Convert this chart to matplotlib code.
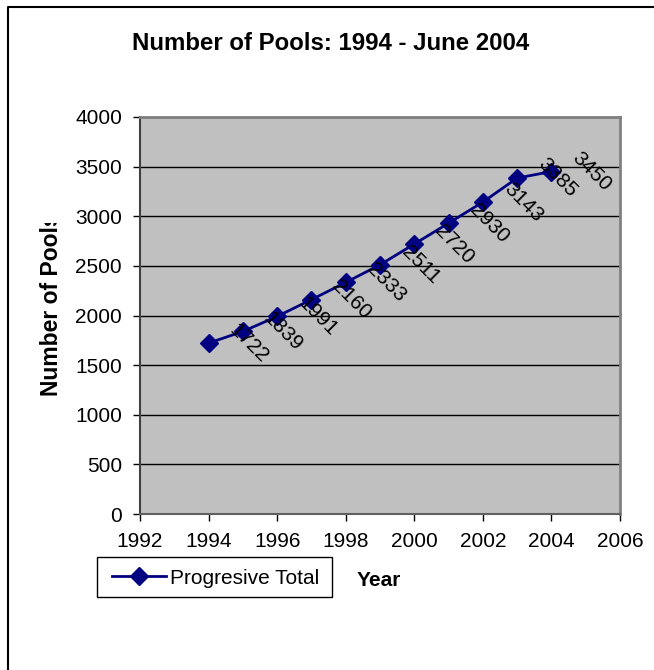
import matplotlib
matplotlib.use("Agg")
import matplotlib.pyplot as plt
from matplotlib.lines import Line2D
from matplotlib.patches import Rectangle
from matplotlib.transforms import Bbox, TransformedBbox

plt.rcParams['font.family'] = ['Liberation Sans', 'DejaVu Sans']

years = [1994, 1995, 1996, 1997, 1998, 1999, 2000, 2001, 2002, 2003, 2004]
totals = [1722, 1839, 1991, 2160, 2333, 2511, 2720, 2930, 3143, 3385, 3450]
x_ticks = [1992, 1994, 1996, 1998, 2000, 2002, 2004, 2006]
y_ticks = [0, 500, 1000, 1500, 2000, 2500, 3000, 3500, 4000]
title = "Number of Pools: 1994 - June 2004"
series_name = "Progresive Total"

W, H = 654, 670
fig = plt.figure(figsize=(W / 100, H / 100), dpi=100)
fig.patch.set_facecolor('white')

ax = fig.add_axes([140 / W, 1 - 514 / H, 480 / W, 397 / H])
ax.set_facecolor('#C0C0C0')
ax.set_xlim(1992, 2006)
ax.set_ylim(0, 4000)
ax.set_xticks(x_ticks)
ax.set_yticks(y_ticks)
ax.yaxis.grid(True, color='black', lw=1.0)
ax.set_axisbelow(True)
for s in ['top', 'right']:
    ax.spines[s].set_color('#808080')
    ax.spines[s].set_linewidth(2)
ax.spines['left'].set_color('#404040')
ax.spines['left'].set_linewidth(1.5)
ax.spines['bottom'].set_color('#606060')
ax.spines['bottom'].set_linewidth(1.5)
ax.tick_params(axis='x', direction='out', length=5, width=1, labelsize=15, pad=8)
ax.tick_params(axis='y', direction='out', length=5, width=1, labelsize=15, pad=8)

navy = '#000080'
line, = ax.plot(years, totals, color=navy, lw=2, marker='D', markersize=9,
                markerfacecolor=navy, markeredgecolor=navy, clip_on=False, zorder=3)

for x, v in zip(years, totals):
    ax.annotate(str(v), (x, v), xytext=(29, 0), textcoords='offset points',
                rotation=-45, ha='center', va='center', fontsize=15,
                color='black', annotation_clip=False, zorder=5)

fig.text(331 / W, 1 - 50 / H, title, ha='center', va='baseline',
         fontsize=17.3, fontweight='bold')

yl = fig.text(52 / W, 1 - 305 / H, "Number of Pools", rotation=90,
              ha='center', va='center', fontsize=16.5, fontweight='bold')
yl.set_clip_box(TransformedBbox(Bbox([[0, 0], [1, 1 - 223 / H]]), fig.transFigure))
yl.set_clip_on(True)

fig.text(379 / W, 1 - 580 / H, "Year", ha='center', va='center',
         fontsize=15, fontweight='bold')

# legend box
box = Rectangle((97 / W, 1 - 597 / H), (332 - 97) / W, 40 / H,
                transform=fig.transFigure, facecolor='white',
                edgecolor='black', lw=1, zorder=5)
fig.add_artist(box)
leg = fig.legend([line], [series_name], loc='center left',
                 bbox_to_anchor=(112 / W, 1 - 578 / H), bbox_transform=fig.transFigure,
                 borderaxespad=0, borderpad=0, frameon=False,
                 fontsize=15, handlelength=2.6, handletextpad=0.2)
leg.set_zorder(10)

fig.add_artist(Line2D([8 / W, 8 / W, 1], [0, 1 - 7 / H, 1 - 7 / H],
                      transform=fig.transFigure, color='black', lw=1.5))

fig.savefig('out.png', dpi=100)
